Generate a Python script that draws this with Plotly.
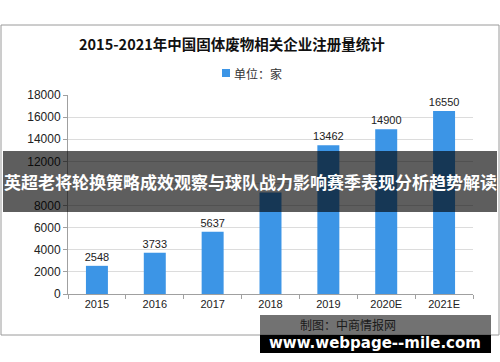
import plotly.graph_objects as go

categories = ["2015", "2016", "2017", "2018", "2019", "2020E", "2021E"]
values = [2548, 3733, 5637, 9170, 13462, 14900, 16550]
label_text = ["2548", "3733", "5637", "", "13462", "14900", "16550"]
y_ticks = [0, 2000, 4000, 6000, 8000, 10000, 12000, 14000, 16000, 18000]
y_tick_text = ["0", "2000", "4000", "6000", "8000", "", "12000", "14000", "16000", "18000"]

title_text = "2015-2021年中国固体废物相关企业注册量统计"
legend_text = "单位：家"
banner_text = "英超老将轮换策略成效观察与球队战力影响赛季表现分析趋势解读"
source_text = "制图：中商情报网"
site_text = "www.webpage--mile.com"

W, H = 500, 362
L, R, T, B = 68, 473, 95, 294

def px(x):
    return (x - L) / (R - L)

def py(y):
    return (B - y) / (B - T)

BAR = "#3c95e6"

fig = go.Figure()
fig.add_trace(go.Bar(
    x=categories, y=values, marker_color=BAR, marker_line_width=0,
    text=label_text, textposition="outside", constraintext="none",
    textfont=dict(size=11, color="#222", family="Liberation Sans, Arial"),
    cliponaxis=False, showlegend=False,
))

shapes = [
    dict(type="rect", xref="paper", yref="paper", x0=px(1), x1=px(499), y0=py(335), y1=py(25),
         line=dict(color="#9a9a9a", width=1), fillcolor="rgba(0,0,0,0)", layer="below"),
    dict(type="rect", xref="paper", yref="paper", x0=px(222), x1=px(230), y0=py(77), y1=py(69),
         line=dict(width=0), fillcolor=BAR),
    dict(type="rect", xref="paper", yref="paper", x0=px(3), x1=px(497), y0=py(212), y1=py(151),
         line=dict(width=0), fillcolor="rgba(0,0,0,0.63)", layer="above"),
    dict(type="rect", xref="paper", yref="paper", x0=px(260), x1=px(491), y0=py(335), y1=py(315),
         line=dict(width=0), fillcolor="rgba(60,60,60,0.72)", layer="above"),
    dict(type="rect", xref="paper", yref="paper", x0=px(260), x1=px(491), y0=py(353), y1=py(335),
         line=dict(width=0), fillcolor="#000000", layer="above"),
]

annotations = [
    dict(text="<b>" + title_text + "</b>", xref="paper", yref="paper", x=px(232), y=py(44),
         showarrow=False, xanchor="center", yanchor="middle",
         font=dict(size=14.5, color="#111", family="Noto Sans CJK SC")),
    dict(text=legend_text, xref="paper", yref="paper", x=px(232), y=py(73),
         showarrow=False, xanchor="left", yanchor="middle",
         font=dict(size=12, color="#333", family="Noto Sans CJK SC")),
    dict(text="<b>" + banner_text + "</b>", xref="paper", yref="paper", x=px(250), y=py(181),
         showarrow=False, xanchor="center", yanchor="middle",
         font=dict(size=17, color="#ffffff", family="Noto Sans CJK SC")),
    dict(text=source_text, xref="paper", yref="paper", x=px(348), y=py(324),
         showarrow=False, xanchor="center", yanchor="middle",
         font=dict(size=12, color="#1a1a1a", family="Noto Sans CJK SC")),
    dict(text="<b>" + site_text + "</b>", xref="paper", yref="paper", x=px(375), y=py(343),
         showarrow=False, xanchor="center", yanchor="middle",
         font=dict(size=15, color="#ffffff", family="DejaVu Sans")),
]

fig.update_layout(
    width=W, height=H,
    margin=dict(l=L, r=W - R, t=T, b=H - B, pad=0),
    paper_bgcolor="white", plot_bgcolor="white",
    bargap=0.62,
    shapes=shapes, annotations=annotations,
    xaxis=dict(
        type="category", showline=True, linecolor="#a0a0a0", linewidth=1,
        ticks="outside", tickson="boundaries", ticklen=4, tickcolor="#a0a0a0",
        tickfont=dict(size=11, color="#222", family="Liberation Sans, Arial"),
        showgrid=False, fixedrange=True,
    ),
    yaxis=dict(
        range=[0, 18000], tickvals=y_ticks, ticktext=y_tick_text,
        showline=True, linecolor="#a0a0a0", linewidth=1,
        ticks="outside", ticklen=4, tickcolor="#a0a0a0",
        tickfont=dict(size=12, color="#222", family="Liberation Sans, Arial"),
        showgrid=True, gridcolor="#dcdcdc", gridwidth=1, zeroline=False,
    ),
)

fig.write_html("out.html")
